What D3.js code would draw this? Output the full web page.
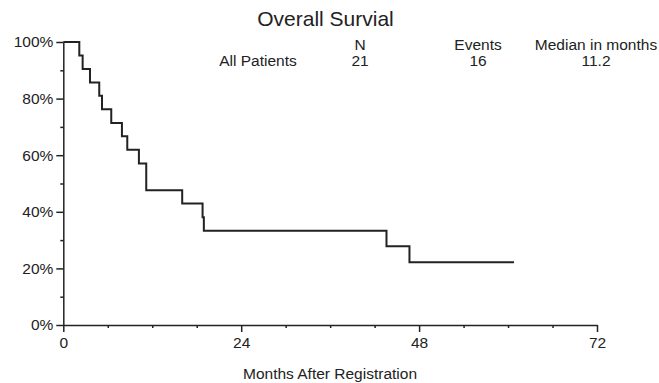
<!DOCTYPE html>
<html>
<head>
<meta charset="utf-8">
<script src="https://cdn.jsdelivr.net/npm/d3@7"></script>
<style>
  body { margin: 0; background: #fff; }
  text { font-family: "Liberation Sans", Arial, sans-serif; fill: #222; }
</style>
</head>
<body>
<svg id="chart" width="659" height="383"></svg>
<script>
// Kaplan-Meier steps
const stepTimes = [0, 2.16, 2.61, 3.6, 4.85, 5.22, 6.47, 7.91, 8.63, 10.2, 11.19, 16.04, 18.79, 18.96, 43.6, 46.7]
const survival = [1, 0.952, 0.905, 0.857, 0.81, 0.762, 0.714, 0.667, 0.619, 0.571, 0.476, 0.429, 0.381, 0.333, 0.278, 0.222]
const lastFollowUp = 60.8

const xMajor = [0, 24, 48, 72]
const xMinor = [6, 12, 18, 30, 36, 42, 54, 60, 66]
const yMajor = [0, 0.2, 0.4, 0.6, 0.8, 1]
const yMinor = [0.1, 0.3, 0.5, 0.7, 0.9]

const headerCols = ["N", "Events", "Median in months"]
const groupRow = ["All Patients", "21", "16", "11.2"]

const svg = d3.select("#chart")

const x = d3.scaleLinear().domain([0, 72]).range([63.3, 597])
const y = d3.scaleLinear().domain([0, 1]).range([325, 42])

// axes: major ticks long, minor ticks short
const xAxis = svg.append("g").attr("transform", "translate(0," + y(0) + ")")
xAxis.call(d3.axisBottom(x).tickValues(xMajor).tickSize(7).tickSizeOuter(0).tickPadding(5))
xAxis.append("g").call(d3.axisBottom(x).tickValues(xMinor).tickSize(3).tickFormat(""))
  .select(".domain").remove()

const yAxis = svg.append("g").attr("transform", "translate(" + x(0) + ",0)")
yAxis.call(d3.axisLeft(y).tickValues(yMajor).tickSize(7).tickSizeOuter(0).tickPadding(3)
  .tickFormat(d => Math.round(d * 100) + "%"))
yAxis.append("g").call(d3.axisLeft(y).tickValues(yMinor).tickSize(3).tickFormat(""))
  .select(".domain").remove()

svg.selectAll(".domain, .tick line").attr("stroke", "#222").attr("stroke-width", 1.5)
svg.selectAll(".tick text")
  .style("font-family", "'Liberation Sans', Arial, sans-serif")
  .style("font-size", "15.5px").attr("fill", "#222")

// survival curve
const pts = stepTimes.map((t, i) => [t, survival[i]])
pts.push([lastFollowUp, survival[survival.length - 1]])

const line = d3.line()
  .x(d => x(d[0]))
  .y(d => y(d[1]))
  .curve(d3.curveStepAfter)

svg.append("path")
  .datum(pts)
  .attr("d", line)
  .attr("fill", "none")
  .attr("stroke", "#222")
  .attr("stroke-width", 2)

// title and summary table
svg.append("text").attr("x", 325.5).attr("y", 26)
  .attr("text-anchor", "middle").style("font-size", "21px").text("Overall Survial")

const colX = [258, 360, 478, 596]
svg.selectAll(".hdr").data(headerCols).enter().append("text")
  .attr("x", (d, i) => colX[i + 1]).attr("y", 50)
  .attr("text-anchor", "middle").style("font-size", "15.5px").text(d => d)

svg.selectAll(".row").data(groupRow).enter().append("text")
  .attr("x", (d, i) => colX[i]).attr("y", 66)
  .attr("text-anchor", "middle").style("font-size", "15.5px").text(d => d)

svg.append("text").attr("x", 330).attr("y", 379)
  .attr("text-anchor", "middle").style("font-size", "15.5px").text("Months After Registration")
</script>
</body>
</html>
